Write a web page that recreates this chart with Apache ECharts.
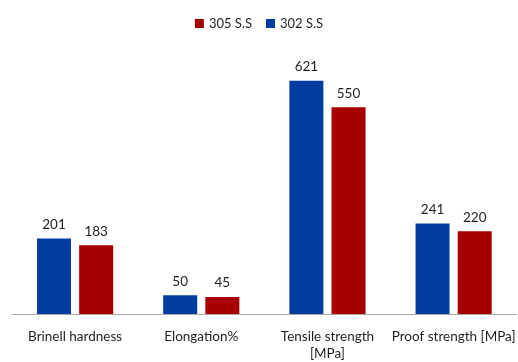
<!DOCTYPE html>
<html>
<head>
<meta charset="utf-8">
<script src="https://cdn.jsdelivr.net/npm/echarts@6/dist/echarts.min.js"></script>
<style>
  html, body { margin: 0; padding: 0; background: #fff; }
  #chart { width: 518px; height: 362px; }
</style>
</head>
<body>
<div id="chart"></div>
<script>
// Mechanical properties of two stainless steel grades
const categories = ['Brinell hardness', 'Elongation%', 'Tensile strength\n[MPa]', 'Proof strength [MPa]'];
const ss302 = [201, 50, 621, 241];
const ss305 = [183, 45, 550, 220];
const legendOrder = ['305 S.S', '302 S.S'];

const textColor = '#1f1f1f';
const fontFamily = 'Lato, "Liberation Sans", sans-serif';

const chart = echarts.init(document.getElementById('chart'));
chart.setOption({
  animation: false,
  textStyle: { fontFamily: fontFamily },
  legend: {
    data: legendOrder,
    top: 12,
    left: 'center',
    itemWidth: 9,
    itemHeight: 9,
    itemGap: 14,
    icon: 'rect',
    textStyle: { fontSize: 13, color: textColor, fontFamily: fontFamily }
  },
  grid: { left: 12, right: -3, top: 51, bottom: 46, containLabel: false },
  xAxis: {
    type: 'category',
    data: categories,
    axisLine: { lineStyle: { color: '#a6a6a6', width: 1 } },
    axisTick: { show: false },
    axisLabel: {
      interval: 0,
      fontSize: 13.5,
      color: textColor,
      margin: 14,
      lineHeight: 17,
      fontFamily: fontFamily
    }
  },
  yAxis: {
    type: 'value',
    min: 0,
    max: 700,
    show: false,
    splitLine: { show: false }
  },
  series: [
    {
      name: '302 S.S',
      type: 'bar',
      data: ss302,
      barWidth: 34,
      barGap: '24%',
      itemStyle: { color: '#003da0' },
      label: { show: true, position: 'top', distance: 7, fontSize: 13.5, color: textColor, fontFamily: fontFamily }
    },
    {
      name: '305 S.S',
      type: 'bar',
      data: ss305,
      barWidth: 34,
      barGap: '24%',
      itemStyle: { color: '#a60000' },
      label: { show: true, position: 'top', distance: 7, fontSize: 13.5, color: textColor, fontFamily: fontFamily }
    }
  ]
});
</script>
</body>
</html>
